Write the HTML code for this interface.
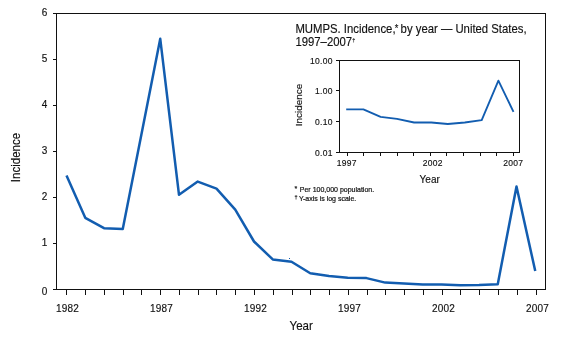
<!DOCTYPE html>
<html><head><meta charset="utf-8"><style>
html,body{margin:0;padding:0;background:#fff;width:562px;height:346px;overflow:hidden}
svg{display:block;position:absolute;left:0;top:0;will-change:transform}
text{font-family:"Liberation Sans",sans-serif;fill:#111;stroke:#111;stroke-width:0.15px}
.t10{font-size:10px}
.t96{font-size:10px}
.t85{font-size:8.5px}
.t122{font-size:12.2px}
.t124{font-size:12.4px}
.sup3{font-size:6px}
.t115{font-size:11.5px}
.t98{font-size:9.9px}
.t7{font-size:7px;stroke-width:0.2px}
.ls{letter-spacing:0.2px}
.ls2{letter-spacing:0.3px}
.sup{font-size:10px}
.sup2{font-size:7px}
.sup3b{font-size:5.5px}
</style></head><body>
<svg width="562" height="346" viewBox="0 0 562 346">
<path d="M53,13.5H546M545.5,13V290M53,289.5H546M56.5,13V290M53,243.5H56M53,197.5H56M53,151.5H56M53,105.5H56M53,59.5H56M66.5,290V295M85.5,290V295M104.5,290V295M123.5,290V295M141.5,290V295M160.5,290V295M179.5,290V295M198.5,290V295M216.5,290V295M235.5,290V295M254.5,290V295M273.5,290V295M292.5,290V295M310.5,290V295M329.5,290V295M348.5,290V295M367.5,290V295M385.5,290V295M404.5,290V295M423.5,290V295M442.5,290V295M460.5,290V295M479.5,290V295M498.5,290V295M517.5,290V295M536.5,290V295M336,60.5H520M519.5,60V153M336,152.5H520M339.5,60V153M336,90.5H339M336,121.5H339M347.5,153V156M363.5,153V156M380.5,153V156M397.5,153V156M413.5,153V156M430.5,153V156M446.5,153V156M463.5,153V156M480.5,153V156M496.5,153V156M513.5,153V156" fill="none" stroke="#111" stroke-width="1" shape-rendering="crispEdges"/>
<text x="47.2" y="294.5" class="t96" text-anchor="end">0</text>
<text x="47.2" y="246.1" class="t96" text-anchor="end">1</text>
<text x="47.2" y="200.1" class="t96" text-anchor="end">2</text>
<text x="47.2" y="154.1" class="t96" text-anchor="end">3</text>
<text x="47.2" y="108.1" class="t96" text-anchor="end">4</text>
<text x="47.2" y="62.1" class="t96" text-anchor="end">5</text>
<text x="47.2" y="16.1" class="t96" text-anchor="end">6</text>
<text x="67.5" y="311.7" class="t10 ls" text-anchor="middle">1982</text>
<text x="161.5" y="311.7" class="t10 ls" text-anchor="middle">1987</text>
<text x="255.5" y="311.7" class="t10 ls" text-anchor="middle">1992</text>
<text x="349.5" y="311.7" class="t10 ls" text-anchor="middle">1997</text>
<text x="443.5" y="311.7" class="t10 ls" text-anchor="middle">2002</text>
<text x="537.5" y="311.7" class="t10 ls" text-anchor="middle">2007</text>
<text transform="translate(301.2,330.0) scale(0.93,1)" class="t124" text-anchor="middle">Year</text>
<text transform="translate(20.0,157.5) rotate(-90) scale(0.93,1)" class="t124" text-anchor="middle">Incidence</text>
<polyline points="66.50,175.5 85.25,217.8 104.00,228.2 122.75,229.1 141.50,133.9 160.25,38.8 179.00,194.8 197.75,181.6 216.50,188.6 235.25,209.6 254.00,241.5 272.75,259.4 291.50,261.7 310.25,273.3 329.00,276.1 347.75,277.7 366.50,278.1 385.25,282.6 404.00,283.4 422.75,284.6 441.50,284.6 460.25,285.3 479.00,285.1 497.75,284.2 516.50,186.5 535.25,271.0" fill="none" stroke="#125db0" stroke-width="2.5" stroke-linejoin="round"/>
<rect x="289" y="258" width="1" height="1" fill="#125db0"/>
<text transform="translate(295.4,32.9) scale(0.93,1)" class="t122">MUMPS. Incidence,<tspan class="sup" dy="-1.2" dx="-0.8">*</tspan><tspan dy="1.2" dx="-1"> by year — United States,</tspan></text>
<text transform="translate(295.4,45.9) scale(0.93,1)" class="t122">1997–2007<tspan class="sup3" dy="-4.3">†</tspan></text>
<text x="332.8" y="156.3" class="t85 ls2" text-anchor="end">0.01</text>
<text x="332.8" y="124.5" class="t85 ls2" text-anchor="end">0.10</text>
<text x="332.8" y="93.5" class="t85 ls2" text-anchor="end">1.00</text>
<text x="332.8" y="63.5" class="t85 ls2" text-anchor="end">10.00</text>
<text x="346.8" y="166.2" class="t85 ls2" text-anchor="middle">1997</text>
<text x="432.7" y="166.2" class="t85 ls2" text-anchor="middle">2002</text>
<text x="513.3" y="166.2" class="t85 ls2" text-anchor="middle">2007</text>
<text x="429.7" text-anchor="middle" y="183" class="t10">Year</text>
<text transform="translate(301.6,105) rotate(-90)" class="t98" text-anchor="middle">Incidence</text>
<polyline points="346.2,109.3 363.4,109.3 380.6,116.9 397.0,118.8 414.1,122.5 431.3,122.5 447.8,124.0 464.8,122.5 481.7,120.2 498.4,80.6 513.5,111.9" fill="none" stroke="#125db0" stroke-width="1.85" stroke-linejoin="round"/>
<text x="294.5" y="192.0" class="t7"><tspan class="sup2" dy="-0.8">*</tspan><tspan dy="0.8" x="299.8">Per 100,000 population.</tspan></text>
<text x="294.5" y="201.2" class="t7"><tspan class="sup3b" dy="-2">†</tspan><tspan dy="2" x="298.9">Y-axis is log scale.</tspan></text>
</svg>
</body></html>
